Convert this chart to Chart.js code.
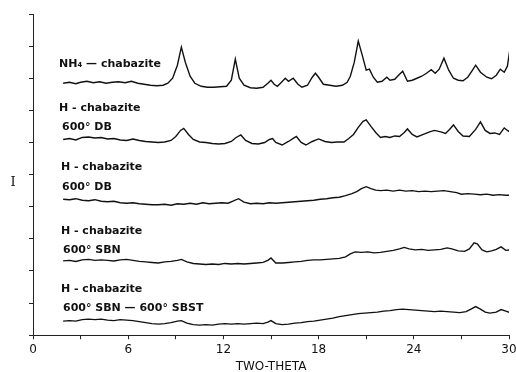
<!DOCTYPE html>
<html>
<head>
<meta charset="utf-8">
<title>Chabazite XRD patterns</title>
<script src="https://cdn.jsdelivr.net/npm/chart.js@4.4.0/dist/chart.umd.min.js"></script>
<style>
  html, body { margin: 0; padding: 0; background: #fff; }
  #wrap { width: 516px; height: 372px; }
</style>
</head>
<body>
<div id="wrap"><canvas id="xrdChart"></canvas></div>
<script>
// labelled two-theta ticks
var xTicks = [0, 6, 12, 18, 24, 30];

// NH4 - chabazite (stacked intensity, arbitrary units)
var nh4Chabazite = [
  [1.9, 251], [2.3, 252], [2.7, 250.5], [3.0, 252], [3.4, 253], [3.8, 251.5], [4.2, 252.5], [4.6, 251],
  [5.0, 252], [5.4, 252.5], [5.8, 251.5], [6.2, 253], [6.6, 251], [7.0, 250], [7.4, 249], [7.8, 248.5],
  [8.2, 249], [8.5, 251], [8.8, 256], [9.1, 269], [9.35, 287], [9.6, 272], [9.9, 258], [10.2, 251],
  [10.6, 248], [11.0, 247], [11.4, 247], [11.8, 247.5], [12.2, 248], [12.5, 254], [12.75, 275], [13.0, 256],
  [13.3, 249], [13.7, 246.5], [14.1, 246], [14.5, 247], [14.8, 251], [15.0, 254], [15.2, 250], [15.4, 248],
  [15.6, 251], [15.9, 256], [16.1, 253], [16.4, 256], [16.7, 250], [16.95, 247], [17.3, 249], [17.6, 257],
  [17.8, 261], [18.0, 257], [18.3, 250], [18.7, 249], [19.1, 248], [19.5, 249], [19.8, 252], [20.0, 258],
  [20.25, 272], [20.5, 293], [20.75, 279], [21.0, 264], [21.2, 265], [21.45, 257], [21.7, 252], [22.0, 253],
  [22.3, 257], [22.5, 254], [22.8, 255], [23.1, 260], [23.3, 263], [23.6, 253], [23.9, 254], [24.2, 256],
  [24.5, 258], [24.8, 261], [25.1, 264.5], [25.35, 261], [25.6, 265], [25.9, 276], [26.2, 264], [26.5, 256],
  [26.8, 254], [27.1, 253.5], [27.4, 257], [27.7, 264], [27.9, 269], [28.2, 262], [28.6, 257], [28.9, 255.5],
  [29.2, 259], [29.45, 265], [29.7, 262], [29.9, 268], [30.05, 284]
];

// H - chabazite, 600 deg DB
var hChabDB1 = [
  [1.9, 195], [2.3, 196], [2.7, 194.5], [3.1, 197], [3.5, 197.5], [3.9, 196.5], [4.3, 197], [4.7, 195.5],
  [5.1, 196], [5.5, 194.5], [5.9, 194], [6.3, 195.5], [6.7, 194], [7.1, 193], [7.5, 192.5], [7.9, 192],
  [8.3, 192.5], [8.7, 194], [9.0, 198], [9.3, 204], [9.5, 206], [9.8, 200], [10.1, 195], [10.5, 192.5],
  [10.9, 192], [11.3, 191], [11.7, 190.5], [12.1, 191], [12.5, 193], [12.8, 197], [13.1, 199.5], [13.4, 194],
  [13.8, 191], [14.2, 190.5], [14.6, 192], [14.9, 195], [15.1, 196], [15.3, 192], [15.7, 189.5], [16.1, 193],
  [16.4, 196], [16.6, 198], [16.9, 192], [17.2, 189.5], [17.6, 193], [18.0, 195.5], [18.4, 193], [18.8, 192],
  [19.2, 192.5], [19.6, 192.5], [19.9, 196], [20.2, 200], [20.5, 207], [20.8, 213], [21.0, 214.5], [21.3, 208],
  [21.6, 202], [21.9, 197], [22.2, 198], [22.5, 197], [22.8, 198.5], [23.1, 198], [23.4, 202], [23.6, 205.5],
  [23.9, 200], [24.2, 197.5], [24.6, 200], [25.0, 202.5], [25.3, 204], [25.7, 202.5], [26.0, 201], [26.25, 205],
  [26.5, 209.5], [26.8, 203], [27.1, 198.5], [27.5, 198], [27.9, 205], [28.2, 212.5], [28.5, 204], [28.8, 201],
  [29.1, 201.5], [29.4, 200], [29.7, 206.5], [29.9, 204], [30.05, 202.5]
];

// H - chabazite, 600 deg DB (second sample)
var hChabDB2 = [
  [1.9, 135.5], [2.3, 135], [2.7, 136], [3.1, 134.5], [3.5, 134], [3.9, 135], [4.3, 133.5], [4.7, 133],
  [5.1, 133.5], [5.5, 132], [5.9, 131.5], [6.3, 132], [6.7, 131], [7.1, 130.5], [7.5, 130], [7.9, 130],
  [8.3, 130.5], [8.7, 129.5], [9.1, 131], [9.5, 130.5], [9.9, 131.5], [10.3, 130.5], [10.7, 132], [11.1, 131],
  [11.5, 131.5], [11.9, 132], [12.3, 131.5], [12.6, 133.5], [12.95, 136], [13.3, 132.5], [13.7, 131], [14.1, 131.5],
  [14.5, 131], [14.9, 132], [15.3, 131.5], [15.7, 132], [16.1, 132.5], [16.5, 133], [16.9, 133.5], [17.3, 134],
  [17.7, 134.5], [18.1, 135.5], [18.5, 136], [18.9, 137], [19.3, 137.5], [19.7, 139], [20.1, 141], [20.4, 143],
  [20.7, 146], [21.0, 148], [21.3, 146], [21.6, 144.5], [21.9, 144], [22.3, 144.5], [22.7, 143.5], [23.1, 144.5],
  [23.5, 143.5], [23.9, 144], [24.3, 143], [24.7, 143.5], [25.1, 143], [25.5, 143.5], [25.9, 144], [26.3, 143],
  [26.7, 142], [27.0, 140.5], [27.4, 141], [27.8, 140.5], [28.2, 140], [28.6, 140.5], [29.0, 139.5], [29.4, 140],
  [29.8, 139.5], [30.05, 139.5]
];

// H - chabazite, 600 deg SBN
var hChabSBN = [
  [1.9, 74], [2.3, 74.5], [2.7, 73.5], [3.1, 75], [3.5, 75.5], [3.9, 74.5], [4.3, 75], [4.7, 74.5],
  [5.1, 74], [5.5, 75], [5.9, 75.5], [6.3, 74.5], [6.7, 73.5], [7.1, 73], [7.5, 72.5], [7.9, 72],
  [8.3, 73], [8.7, 73.5], [9.1, 74.5], [9.35, 75.5], [9.7, 73], [10.1, 71.5], [10.5, 71], [10.9, 70.5],
  [11.3, 71], [11.7, 70.5], [12.1, 71.5], [12.5, 71], [12.9, 71.5], [13.3, 71], [13.7, 71.5], [14.1, 72],
  [14.5, 72.5], [14.8, 74.5], [15.0, 77], [15.3, 72], [15.7, 72], [16.1, 72.5], [16.5, 73], [16.9, 73.5],
  [17.3, 74.5], [17.7, 75], [18.1, 75], [18.5, 75.5], [18.9, 76], [19.3, 76.5], [19.7, 78], [20.0, 81],
  [20.3, 83], [20.7, 82.5], [21.1, 83], [21.5, 82], [21.9, 82.5], [22.3, 83.5], [22.7, 84.5], [23.1, 86],
  [23.4, 87.5], [23.7, 86], [24.1, 85], [24.5, 85.5], [24.9, 84.5], [25.3, 85], [25.7, 85.5], [26.1, 87],
  [26.4, 86], [26.8, 84], [27.2, 83.5], [27.5, 86], [27.8, 92], [28.0, 91], [28.3, 85], [28.6, 83],
  [28.9, 84], [29.2, 85.5], [29.5, 88], [29.8, 84.5], [30.05, 85]
];

// H - chabazite, 600 deg SBN - 600 deg SBST
var hChabSBST = [
  [1.9, 14], [2.3, 14.5], [2.7, 14], [3.1, 15.5], [3.5, 16], [3.9, 15.5], [4.3, 16], [4.7, 15],
  [5.1, 14.5], [5.5, 15.5], [5.9, 15], [6.3, 14.5], [6.7, 13.5], [7.1, 12.5], [7.5, 11.5], [7.9, 11],
  [8.3, 11.5], [8.7, 12.5], [9.1, 14], [9.35, 14.5], [9.7, 12], [10.1, 10.5], [10.5, 10], [10.9, 10.5],
  [11.3, 10], [11.7, 11], [12.1, 11.5], [12.5, 11], [12.9, 11.5], [13.3, 11], [13.7, 11.5], [14.1, 12],
  [14.5, 11.5], [14.8, 13], [15.0, 14.5], [15.3, 11.5], [15.7, 10.5], [16.1, 11], [16.5, 12], [16.9, 12.5],
  [17.3, 13.5], [17.7, 14], [18.1, 15], [18.5, 16], [18.9, 17], [19.3, 18.5], [19.7, 19.5], [20.1, 20.5],
  [20.5, 21.5], [20.9, 22], [21.3, 22.5], [21.7, 23], [22.1, 24], [22.5, 24.5], [22.9, 25.5], [23.3, 26],
  [23.7, 25.5], [24.1, 25], [24.5, 24.5], [24.9, 24], [25.3, 23.5], [25.7, 24], [26.1, 23.5], [26.5, 23],
  [26.9, 22.5], [27.3, 23.5], [27.6, 26], [27.9, 28.5], [28.2, 26], [28.5, 23], [28.8, 22], [29.2, 23],
  [29.5, 25.5], [29.8, 24], [30.05, 22.5]
];

// trace captions, as printed on the figure
var captions = [
  'NH\u2084 \u2014 chabazite',
  'H - chabazite', '600\u00b0 DB',
  'H - chabazite', '600\u00b0 DB',
  'H - chabazite', '600\u00b0 SBN',
  'H - chabazite', '600\u00b0 SBN \u2014 600\u00b0 SBST'
];

// where each caption sits (two-theta, intensity) - layout only
var captionPos = [
  [1.64, 270],
  [1.64, 226], [1.83, 207],
  [1.76, 167], [1.83, 148],
  [1.76, 104], [1.89, 85],
  [1.76, 46], [1.89, 27]
];

var FONT = '"DejaVu Sans", sans-serif';

function toPoints(arr) {
  return arr.map(function (p) { return { x: p[0], y: p[1] }; });
}

function trace(data) {
  return {
    data: toPoints(data),
    borderColor: '#111',
    borderWidth: 1.4,
    pointRadius: 0,
    tension: 0,
    fill: false
  };
}

// captions and the unrotated "I" axis name
var captionPlugin = {
  id: 'captions',
  afterDatasetsDraw: function (chart) {
    var ctx = chart.ctx;
    var xs = chart.scales.x, ys = chart.scales.y;
    ctx.save();
    ctx.fillStyle = '#111';
    ctx.font = 'bold 11px ' + FONT;
    ctx.textBaseline = 'middle';
    ctx.textAlign = 'left';
    captions.forEach(function (t, i) {
      ctx.fillText(t, xs.getPixelForValue(captionPos[i][0]), ys.getPixelForValue(captionPos[i][1]));
    });
    ctx.font = '13px "DejaVu Serif", serif';
    ctx.textAlign = 'center';
    ctx.fillText('I', chart.chartArea.left - 20, ys.getPixelForValue(152));
    ctx.restore();
  }
};

var ctx = document.getElementById('xrdChart').getContext('2d');
var chart = new Chart(ctx, {
  type: 'line',
  data: {
    datasets: [
      trace(nh4Chabazite),
      trace(hChabDB1),
      trace(hChabDB2),
      trace(hChabSBN),
      trace(hChabSBST)
    ]
  },
  options: {
    responsive: true,
    maintainAspectRatio: false,
    animation: false,
    layout: { padding: { left: 29, right: 0, top: 14, bottom: -2 } },
    plugins: {
      legend: { display: false },
      tooltip: { enabled: false }
    },
    scales: {
      x: {
        type: 'linear',
        min: 0,
        max: 30,
        border: { display: true, color: '#222', width: 1, dash: [6, 5] },
        grid: { drawOnChartArea: false, drawTicks: true, tickLength: 4, color: '#222' },
        ticks: {
          stepSize: 3,
          autoSkip: false,
          maxRotation: 0,
          padding: 3,
          color: '#111',
          font: { family: FONT, size: 12 },
          callback: function (v) { return xTicks.indexOf(v) >= 0 ? String(v) : ''; }
        },
        title: {
          display: true,
          text: 'TWO-THETA',
          color: '#111',
          font: { family: FONT, size: 12 },
          padding: { top: 0, bottom: 0 }
        },
        // let the last label overhang a little so the axis reaches x = 509
        afterFit: function (scale) { scale.paddingRight = 7; }
      },
      y: {
        min: 0,
        max: 320,
        border: { display: true, color: '#222', width: 1, dash: [7, 3] },
        grid: { drawOnChartArea: false, drawTicks: true, tickLength: 4, color: '#222' },
        ticks: { stepSize: 32, display: false }
      }
    }
  },
  plugins: [captionPlugin]
});
</script>
</body>
</html>
